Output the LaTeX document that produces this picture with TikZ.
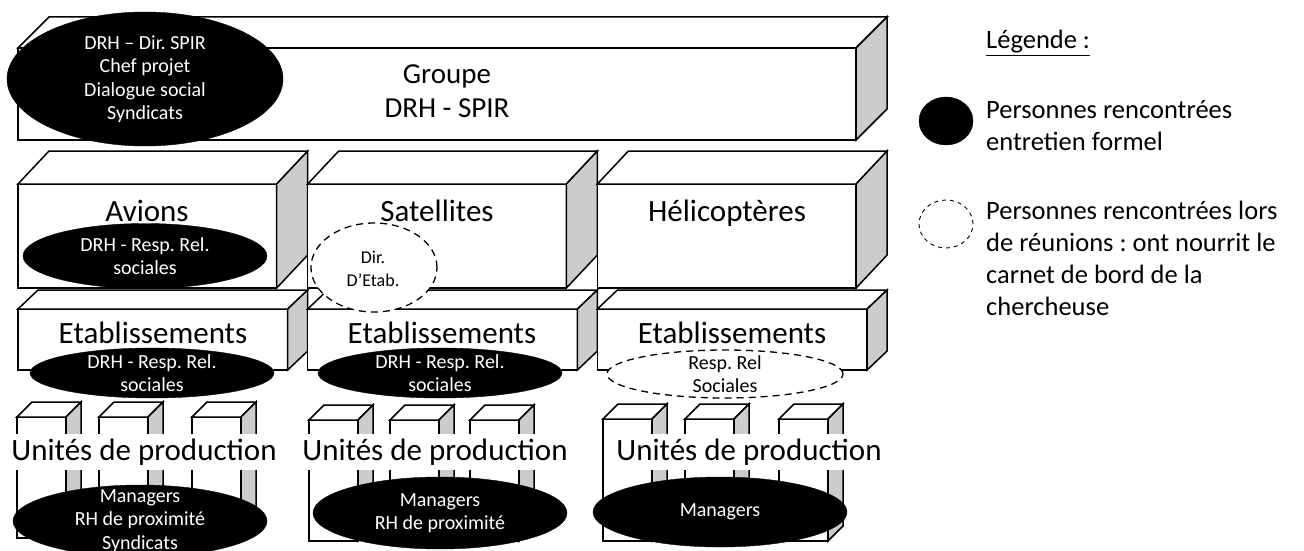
\documentclass[tikz,border=0pt]{standalone}
\usepackage{fontspec}
\setmainfont{Carlito}
\usetikzlibrary{shapes.geometric}
\definecolor{sidegrey}{gray}{0.8}
\frenchspacing
\tikzset{
  boxline/.style={draw=black, line width=1.5pt, line join=miter},
  biglabel/.style={font=\fontsize{31}{36}\selectfont, align=center, inner sep=0pt},
  formal/.style={ellipse, draw=black, fill=black, inner sep=0pt},
  meeting/.style={ellipse, draw=black, fill=white, line width=1.3pt, dash pattern=on 7pt off 5pt, inner sep=0pt},
  intext/.style={text=white, align=center, inner sep=0pt, font=\fontsize{20}{23.5}\selectfont},
  meettext/.style={text=black, align=center, inner sep=0pt, font=\fontsize{20}{23.5}\selectfont},
  unitlabel/.style={fill=white, inner xsep=3pt, inner ysep=5pt, font=\fontsize{31}{36}\selectfont},
  legendtext/.style={anchor=west, align=left, inner sep=0pt, font=\fontsize{26.5}{32}\selectfont},
  legformal/.style={ellipse, draw=black, fill=black, inner sep=0pt, minimum width=54pt, minimum height=48pt},
  legmeeting/.style={ellipse, draw=black, line width=0.9pt, dash pattern=on 4pt off 4pt, inner sep=0pt, minimum width=54pt, minimum height=48pt},
}
\newcommand\drawcuboid[6]{%
  \draw[boxline, fill=white] (#1,#2) rectangle ++(#3,#4);
  \draw[boxline, fill=white] (#1,#2) -- ++(#5,-#6) -- ++(#3,0) -- ++(-#5,#6) -- cycle;
  \draw[boxline, fill=sidegrey] ({#1+#3},#2) -- ++(#5,-#6) -- ++(0,#4) -- ++(-#5,#6) -- cycle;
}
\begin{document}
\frenchspacing
\begin{tikzpicture}[x=1pt, y=-1pt]
\useasboundingbox (0,0) rectangle (1304,551);

% ---- Group level
\drawcuboid{18}{48}{838}{92}{31}{31}
\node[formal, minimum width=276pt, minimum height=134pt] (eTop) at (145,79) {};
\node[intext] (tTop) at (eTop.center) {DRH – Dir. SPIR\\Chef projet\\Dialogue social\\Syndicats};
\node[biglabel, font=\fontsize{29}{34}\selectfont] (groupe) at (447,91) {Groupe\\DRH - SPIR};

% ---- Divisions
\drawcuboid{18}{184}{258.7}{104}{31}{33}
\drawcuboid{307.7}{184}{258.7}{104}{31}{33}
\drawcuboid{597.4}{184}{258.7}{104}{31}{33}
\node[biglabel, anchor=base] (avions) at (147,221) {Avions};
\node[biglabel, anchor=base] (satellites) at (437,221) {Satellites};
\node[biglabel, anchor=base] (helico) at (727,221) {Hélicoptères};
\node[formal, minimum width=244pt, minimum height=65pt] (eAvions) at (145,256) {};
\node[intext] (tAvions) at (eAvions.center) {DRH - Resp. Rel.\\sociales};

% ---- Etablissements
\drawcuboid{18}{309}{269.7}{61}{20}{19}
\drawcuboid{307.7}{309}{269.7}{61}{20}{19}
\drawcuboid{597.4}{309}{269.7}{61}{20}{19}
\node[meeting, minimum width=126pt, minimum height=89pt] (eDir) at (374,267.5) {};
\node[meettext, font=\fontsize{18}{23}\selectfont] (tDir) at (373,268.5) {Dir.\\D’Etab.};
\node[biglabel, anchor=base] (etab1) at (153,343) {Etablissements};
\node[biglabel, anchor=base] (etab2) at (442,343) {Etablissements};
\node[biglabel, anchor=base] (etab3) at (732,343) {Etablissements};
\node[formal, minimum width=244pt, minimum height=50pt] (eEtab1) at (152,373) {};
\node[intext] (tEtab1) at (eEtab1.center) {DRH - Resp. Rel.\\sociales};
\node[formal, minimum width=244pt, minimum height=50pt] (eEtab2) at (440,373) {};
\node[intext] (tEtab2) at (eEtab2.center) {DRH - Resp. Rel.\\sociales};
\node[meeting, minimum width=236pt, minimum height=48pt] (eEtab3) at (725,374) {};
\node[meettext] (tEtab3) at (eEtab3.center) {Resp. Rel\\Sociales};

% ---- Unites de production
\drawcuboid{17}{417}{49}{121}{15}{15}
\drawcuboid{99}{417}{49}{121}{15}{15}
\drawcuboid{192}{417}{49}{121}{15}{15}
\drawcuboid{309}{420}{49}{121}{15}{15}
\drawcuboid{390}{420}{49}{121}{15}{15}
\drawcuboid{470}{420}{49}{121}{15}{15}
\drawcuboid{603}{419}{49}{122}{15}{15}
\drawcuboid{685}{419}{49}{122}{15}{15}
\drawcuboid{779}{419}{49}{122}{15}{15}
\node[unitlabel] (up1) at (144,452) {Unités de production};
\node[unitlabel] (up2) at (435,452) {Unités de production};
\node[unitlabel] (up3) at (749,452) {Unités de production};
\node[formal, minimum width=254pt, minimum height=72pt] (eUp1) at (140,521) {};
\node[intext] (tUp1) at (eUp1.center) {Managers\\RH de proximité\\Syndicats};
\node[formal, minimum width=254pt, minimum height=72pt] (eUp2) at (440,513) {};
\node[intext] (tUp2) at (eUp2.center) {Managers\\RH de proximité};
\node[formal, minimum width=254pt, minimum height=70pt] (eUp3) at (720,512) {};
\node[intext] (tUp3) at (eUp3.center) {Managers};

% ---- Legend
\node[legendtext] (legTitle) at (986,43) {\underline{Légende :}};
\node[legformal] (legF) at (946,121) {};
\node[legendtext] (legFt) at (986,126) {Personnes rencontrées\\entretien formel};
\node[legmeeting] (legM) at (946,224) {};
\node[legendtext] (legMt) at (986,258.5) {Personnes rencontrées lors\\de réunions : ont nourrit le\\carnet de bord de la\\chercheuse};
\end{tikzpicture}
\end{document}
